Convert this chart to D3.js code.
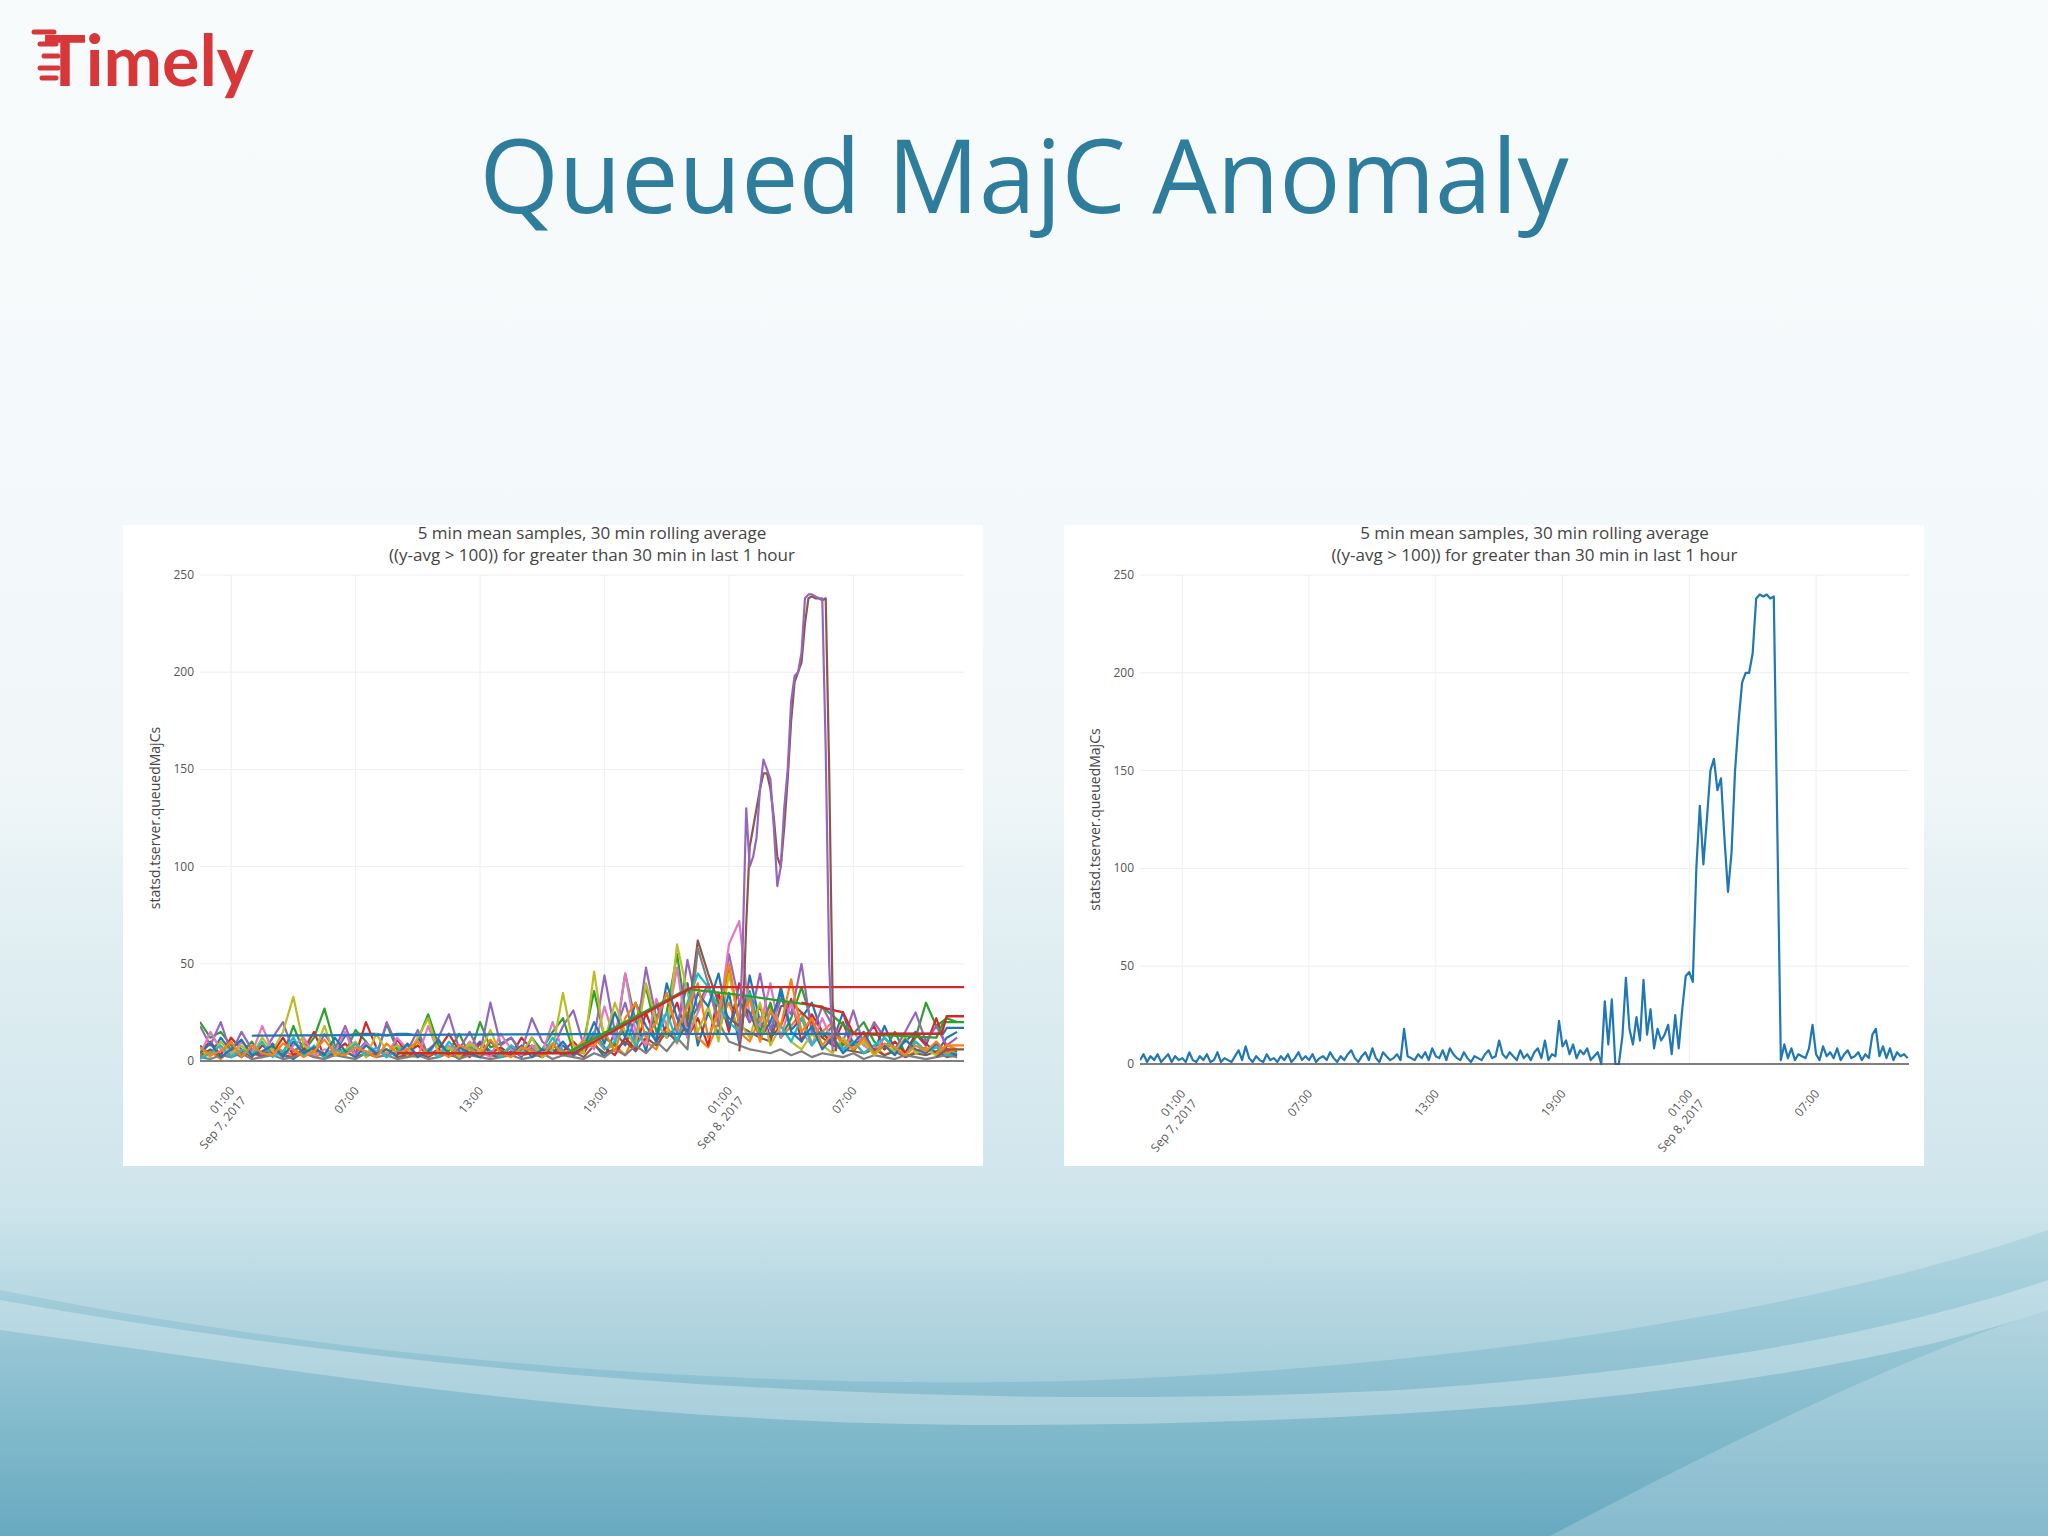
<!DOCTYPE html>
<html>
<head>
<script src="https://d3js.org/d3.v7.min.js"></script>
<style>
  body { margin: 0; background: #f7fafb; }
  svg { display: block; }
</style>
</head>
<body>
<svg id="slide" width="2048" height="1536"></svg>
<script>
// ---- data ----
var chartTitle = ["5 min mean samples, 30 min rolling average", "((y-avg > 100)) for greater than 30 min in last 1 hour"];
var yLabel = "statsd.tserver.queuedMajCs";
var yTicks = [0, 50, 100, 150, 200, 250];
var xTicks = ["2017-09-07T01:00", "2017-09-07T07:00", "2017-09-07T13:00", "2017-09-07T19:00", "2017-09-08T01:00", "2017-09-08T07:00"];
var colors = ["#1f77b4", "#ff7f0e", "#2ca02c", "#d62728", "#9467bd", "#8c564b", "#e377c2", "#7f7f7f", "#bcbd22", "#17becf"];

// right panel: one series, 10 min steps from Sep 6 23:00
var rightStart = "2017-09-06T23:00";
var rightValues = [
  2,5,1,4,2,5,1,3,5,1,4,2,
  3,1,6,2,1,4,2,5,1,2,6,1,3,2,1,4,7,2,9,3,1,4,2,1,5,2,3,1,4,2,5,1,3,6,2,4,
  2,5,1,3,4,2,6,3,1,4,2,5,7,3,1,4,6,2,8,3,1,6,4,2,3,5,2,18,4,3,2,5,3,6,2,8,
  4,3,7,2,8,5,3,2,6,3,1,4,3,2,5,7,3,4,12,5,3,6,4,2,7,3,5,2,6,8,3,12,2,5,4,22,
  9,12,5,10,3,7,5,8,2,4,6,0,32,10,33,0,0,14,44,18,10,24,12,43,15,28,8,18,12,15,20,5,25,8,28,45,
  47,42,100,132,102,125,150,156,140,146,115,88,108,150,175,195,200,200,210,238,240,239,240,238,239,120,2,
  10,3,8,2,5,4,3,8,20,5,2,9,4,6,3,8,2,5,7,3,4,6,2,5,3,15,18,4,9,3,8,2,6,4,5,3
];

// left panel: noise series, 30 min steps from Sep 6 23:30
var leftStart = "2017-09-06T23:30";
var leftNoise = [
  [8,3,12,5,2,6,4,9,3,1,5,7,2,4,13,14,14,14,13,14,14,13,2,6,3,8,4,10,5,3,7,2,12,5,4,8,3,6,9,2,15,8,22,5,30,12,18,40,8,25,14,35,9,44,20,12,38,16,22,30,14,10,25,8,12,5,18,6,10,15,9,4,12,15],
  [2,5,1,7,3,4,2,8,5,3,10,2,4,6,3,9,2,5,4,7,3,2,6,10,4,3,8,2,5,6,3,4,7,2,9,3,5,4,12,6,8,3,14,10,6,18,9,25,12,7,20,30,15,10,22,28,12,18,25,9,15,20,6,10,4,8,3,6,2,5,7,3,8,6],
  [20,12,15,8,4,10,2,6,3,18,5,12,27,8,4,16,10,3,19,6,2,11,24,8,5,14,3,20,7,9,12,4,8,6,15,22,5,10,36,12,8,45,20,38,15,25,55,18,28,40,22,48,18,36,15,30,12,22,38,20,12,18,8,14,20,10,6,15,4,12,30,18,22,20],
  [5,10,3,12,6,2,8,4,12,3,6,15,2,5,9,3,20,7,2,11,4,8,3,6,14,5,2,9,4,7,3,12,6,2,8,5,10,4,15,7,3,12,6,25,10,18,30,12,22,8,35,15,40,20,28,12,18,32,10,24,15,8,20,5,12,18,6,10,4,14,8,22,6,5],
  [18,8,20,4,15,6,3,12,20,5,9,3,14,6,18,4,10,2,20,8,5,16,3,12,24,6,15,4,30,8,12,5,22,10,6,18,26,8,12,44,15,30,10,48,22,35,14,52,26,40,18,55,30,20,45,16,32,24,50,14,28,18,10,26,8,20,12,6,15,25,10,18,8,12],
  [3,6,2,4,3,5,2,7,3,2,4,6,2,3,5,2,4,3,6,2,3,4,2,5,3,2,4,6,3,2,5,3,4,2,6,3,5,2,8,4,6,10,5,12,8,15,10,20,62,45,30,22,18,15,12,10,28,30,25,20,12,8,6,5,4,6,3,5,2,4,3,5,2,3],
  [3,15,6,2,10,4,18,5,2,8,12,3,6,4,15,2,9,5,3,12,6,2,18,4,8,3,10,5,2,14,6,3,8,4,20,5,2,12,6,28,10,45,15,8,32,18,48,12,25,38,20,60,72,22,18,40,12,30,15,8,22,10,5,15,8,4,12,6,3,10,5,8,4,6],
  [2,1,3,2,4,1,2,3,1,2,4,2,1,3,2,1,4,2,3,1,2,3,1,2,4,1,3,2,1,2,3,1,2,4,1,3,2,1,4,2,6,3,8,4,10,5,12,6,58,40,20,10,8,6,5,4,6,3,5,2,4,3,2,4,1,3,2,1,3,2,1,2,3,2],
  [6,2,10,4,8,3,12,5,15,33,8,4,18,3,6,10,2,14,5,8,3,12,22,4,7,2,9,5,16,3,8,4,12,2,6,35,8,4,46,10,30,15,8,40,20,12,60,35,15,28,10,45,20,12,30,8,18,10,6,14,8,4,12,6,10,3,8,5,12,4,6,3,5,4],
  [1,4,8,2,6,3,10,2,5,12,3,8,2,6,4,9,3,7,2,5,8,3,6,2,10,4,7,3,5,2,8,4,6,3,12,5,4,8,15,6,10,20,8,15,12,25,10,30,45,38,28,20,15,35,12,25,18,10,22,8,15,12,6,10,4,8,12,6,3,10,5,7,3,4],
  [4,9,2,6,11,3,5,8,2,10,4,7,3,12,5,2,8,4,6,3,9,2,5,11,3,7,4,2,10,5,3,8,2,6,4,10,3,7,20,9,25,12,30,18,10,40,22,15,35,28,45,18,30,25,12,20,35,15,10,18,6,12,4,9,15,5,8,3,11,6,4,9,5,3],
  [7,3,5,10,2,8,4,3,9,6,2,5,11,4,3,7,5,2,9,4,6,10,3,5,2,8,6,3,11,4,2,7,5,3,9,4,6,10,8,15,5,22,30,12,20,35,16,28,40,12,25,50,20,32,10,26,18,42,15,22,8,14,10,6,12,4,9,7,3,8,5,10,4,6]
];

// left panel: the two peak hosts, 10 min steps from Sep 8 01:30
var peakStart = "2017-09-08T01:30";
var peakPurple = [10,60,130,100,105,115,140,155,150,145,120,90,100,130,150,185,198,200,210,238,240,240,239,238,238,160,50,5];
var peakBrown = [5,20,70,110,120,130,140,148,148,140,125,105,100,120,145,175,195,200,205,225,238,239,238,238,237,238,150,30,5];

// left panel: sparse hosts (time, value)
var rampRed = [["2017-09-07T09:00", 4], ["2017-09-07T17:30", 4], ["2017-09-07T23:15", 38], ["2017-09-08T12:30", 38]];
var rampGreen = [["2017-09-07T17:00", 3], ["2017-09-07T23:00", 37], ["2017-09-08T01:30", 34], ["2017-09-08T05:30", 28], ["2017-09-08T07:00", 14], ["2017-09-08T11:00", 12], ["2017-09-08T11:20", 20], ["2017-09-08T12:30", 20]];
var rampRed2 = [["2017-09-08T04:30", 30], ["2017-09-08T06:30", 25], ["2017-09-08T07:00", 14], ["2017-09-08T11:15", 14], ["2017-09-08T11:30", 23], ["2017-09-08T12:30", 23]];
var flatBlue = [["2017-09-07T02:00", 13], ["2017-09-07T21:00", 14], ["2017-09-08T11:20", 14], ["2017-09-08T11:30", 17], ["2017-09-08T12:30", 17]];
var tailOrange = [["2017-09-08T11:00", 4], ["2017-09-08T11:30", 8], ["2017-09-08T12:30", 8]];
var tailBrown = [["2017-09-08T11:00", 2], ["2017-09-08T11:30", 6], ["2017-09-08T12:30", 6]];

// ---- drawing ----
var parse = d3.isoParse;
var svg = d3.select("#slide");
var defs = svg.append("defs");

var bg = defs.append("linearGradient").attr("id", "bg").attr("x1", 0).attr("y1", 0).attr("x2", 0).attr("y2", 1);
bg.append("stop").attr("offset", "0").attr("stop-color", "#f8fbfc");
bg.append("stop").attr("offset", "0.5").attr("stop-color", "#f1f7f9");
bg.append("stop").attr("offset", "0.6").attr("stop-color", "#e2eff3");
bg.append("stop").attr("offset", "0.78").attr("stop-color", "#cfe5ec");
bg.append("stop").attr("offset", "1").attr("stop-color", "#7fb8cb");
svg.append("rect").attr("width", 2048).attr("height", 1536).attr("fill", "url(#bg)");

var wave = defs.append("linearGradient").attr("id", "wave").attr("x1", 0).attr("y1", 0).attr("x2", 0).attr("y2", 1);
wave.append("stop").attr("offset", "0").attr("stop-color", "#a9d2de").attr("stop-opacity", 0.7);
wave.append("stop").attr("offset", "1").attr("stop-color", "#65a8bf").attr("stop-opacity", 0.9);
svg.append("path").attr("fill", "url(#wave)")
  .attr("d", "M0,1290 C400,1370 800,1390 1100,1380 C1500,1365 1850,1300 2048,1230 L2048,1536 L0,1536 Z");
svg.append("path").attr("fill", "#ffffff").attr("opacity", 0.3)
  .attr("d", "M0,1300 C500,1390 1000,1410 1400,1390 C1700,1370 1900,1330 2048,1280 L2048,1310 C1800,1395 1400,1425 1000,1425 C600,1425 300,1370 0,1330 Z");
svg.append("path").attr("fill", "#ffffff").attr("opacity", 0.2)
  .attr("d", "M1550,1536 C1750,1430 1920,1350 2048,1310 L2048,1536 Z");

// logo
var logo = svg.append("g");
logo.append("text").attr("x", 44).attr("y", 86).attr("fill", "#d8373a")
  .attr("font-family", "Lato, sans-serif").attr("font-weight", 700).attr("font-size", 70).text("Timely");
[[34, 32, 20], [40, 44, 16], [44, 56, 14], [40, 68, 18], [42, 78, 14]].forEach(function (s) {
  logo.append("line").attr("x1", s[0]).attr("x2", s[0] + s[2]).attr("y1", s[1]).attr("y2", s[1])
    .attr("stroke", "#d8373a").attr("stroke-width", 5).attr("stroke-linecap", "round");
});

// title
svg.append("text").attr("x", 1024).attr("y", 213).attr("text-anchor", "middle")
  .attr("fill", "#2f7d9d").attr("font-family", "'Open Sans', sans-serif").attr("font-size", 102)
  .text("Queued MajC Anomaly");

function drawPanel(p) {
  var g = svg.append("g");
  g.append("rect").attr("x", p.box[0]).attr("y", p.box[1]).attr("width", p.box[2]).attr("height", p.box[3]).attr("fill", "#fff");

  var x = d3.scaleTime().domain([parse(p.x0), parse(p.x1)]).range([p.left, p.right]);
  var y = d3.scaleLinear().domain([0, 250]).range([p.bottom, p.top]);

  g.selectAll(".vg").data(xTicks).join("line")
    .attr("x1", d => x(parse(d))).attr("x2", d => x(parse(d)))
    .attr("y1", p.top).attr("y2", p.bottom).attr("stroke", "#eeeef4");
  g.selectAll(".hg").data(yTicks.slice(1)).join("line")
    .attr("x1", p.left).attr("x2", p.right).attr("y1", d => y(d)).attr("y2", d => y(d)).attr("stroke", "#eeeef4");

  g.selectAll(".yt").data(yTicks).join("text")
    .attr("x", p.left - 6).attr("y", d => y(d) + 4).attr("text-anchor", "end")
    .attr("font-family", "'Open Sans', sans-serif").attr("font-size", 12).attr("fill", "#555").text(d => d);

  g.append("text").attr("transform", "translate(" + (p.left - 40) + "," + ((p.top + p.bottom) / 2) + ") rotate(-90)")
    .attr("text-anchor", "middle").attr("font-family", "'Open Sans', sans-serif").attr("font-size", 14)
    .attr("fill", "#444").text(yLabel);

  g.selectAll(".ct").data(chartTitle).join("text")
    .attr("x", (p.left + p.right) / 2 + 10).attr("y", (d, i) => p.box[1] + 14 + i * 22)
    .attr("text-anchor", "middle").attr("font-family", "'Open Sans', sans-serif").attr("font-size", 17)
    .attr("fill", "#444").text(d => d);

  var fmt = d3.timeFormat("%H:%M"), fmtDay = d3.timeFormat("%b %-d, %Y");
  xTicks.forEach(function (t) {
    var d = parse(t);
    var lab = g.append("text").attr("transform", "translate(" + (x(d) + 4) + "," + (p.bottom + 30) + ") rotate(-50)")
      .attr("text-anchor", "end").attr("font-family", "'Open Sans', sans-serif").attr("font-size", 12).attr("fill", "#555");
    lab.append("tspan").attr("x", 0).attr("dy", 0).text(fmt(d));
    if (d.getHours() === 1) lab.append("tspan").attr("x", 0).attr("dy", 15).text(fmtDay(d));
  });

  var clipId = "clip" + p.left;
  defs.append("clipPath").attr("id", clipId).append("rect")
    .attr("x", p.left).attr("y", p.top - 10).attr("width", p.right - p.left).attr("height", p.bottom - p.top + 12);
  var plot = g.append("g").attr("clip-path", "url(#" + clipId + ")");
  var line = d3.line().x(d => x(d[0])).y(d => y(d[1]));

  p.series.forEach(function (s) {
    plot.append("path").attr("d", line(s.pts)).attr("fill", "none")
      .attr("stroke", s.color).attr("stroke-width", s.width || 2.2).attr("stroke-linejoin", "round");
  });

  g.append("line").attr("x1", p.left).attr("x2", p.right).attr("y1", y(0)).attr("y2", y(0))
    .attr("stroke", "#555").attr("stroke-width", 1.5);
}

function stepped(start, minutes, vals) {
  var t0 = parse(start);
  return vals.map((v, i) => [d3.timeMinute.offset(t0, i * minutes), v]);
}
function sparse(pts) { return pts.map(d => [parse(d[0]), d[1]]); }

var leftSeries = [];
leftNoise.forEach(function (vals, i) {
  leftSeries.push({ pts: stepped(leftStart, 30, vals), color: colors[i % colors.length] });
});
leftSeries.push({ pts: sparse(flatBlue), color: colors[0] });
leftSeries.push({ pts: sparse(tailOrange), color: colors[1] });
leftSeries.push({ pts: sparse(tailBrown), color: colors[5] });
leftSeries.push({ pts: sparse(rampGreen), color: colors[2], width: 2.4 });
leftSeries.push({ pts: sparse(rampRed2), color: colors[3], width: 2.4 });
leftSeries.push({ pts: sparse(rampRed), color: colors[3], width: 2.4 });
leftSeries.push({ pts: stepped(peakStart, 10, peakBrown), color: colors[5], width: 2.2 });
leftSeries.push({ pts: stepped(peakStart, 10, peakPurple), color: colors[4], width: 2.2 });

drawPanel({
  box: [123, 525, 860, 641], left: 200, right: 964, top: 575, bottom: 1061,
  x0: "2017-09-06T23:30", x1: "2017-09-08T12:20", series: leftSeries
});

drawPanel({
  box: [1064, 525, 860, 641], left: 1140, right: 1909, top: 575, bottom: 1064,
  x0: "2017-09-06T23:00", x1: "2017-09-08T11:24",
  series: [{ pts: stepped(rightStart, 10, rightValues), color: colors[0], width: 2.2 }]
});
</script>
</body>
</html>
